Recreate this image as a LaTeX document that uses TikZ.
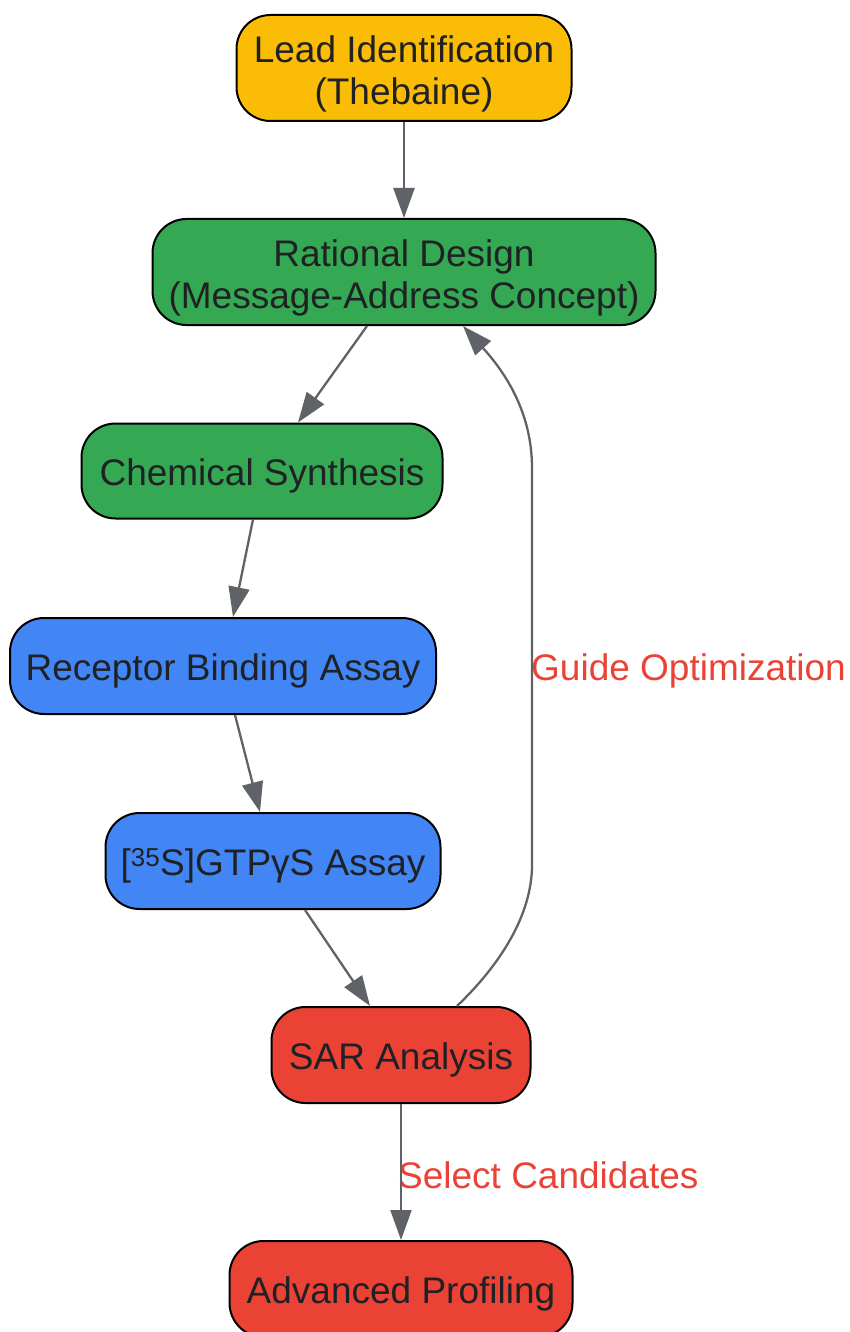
\documentclass[tikz,border=0pt]{standalone}
\usepackage{fontspec}
\setmainfont{Liberation Sans}
\usetikzlibrary{calc}
\usetikzlibrary{arrows.meta}

\definecolor{leadyellow}{HTML}{FBBC05}
\definecolor{designgreen}{HTML}{34A853}
\definecolor{assayblue}{HTML}{4285F4}
\definecolor{sarred}{HTML}{EA4335}
\definecolor{edgegray}{HTML}{5F6368}
\definecolor{textdark}{HTML}{202124}

\begin{document}
\begin{tikzpicture}[x=1pt, y=1pt,
	stagebox/.style={rectangle, rounded corners=34pt, draw=black, line width=2pt, text=textdark, align=center, inner sep=0pt, font=\fontsize{37}{42}\selectfont, execute at begin node={\rule{0pt}{37pt}}},
	twoline/.style={execute at begin node={\rule{0pt}{80pt}}},
	flow/.style={draw=edgegray, line width=2.3pt, -{Triangle[length=30pt, width=21pt]}},
	edgelabel/.style={text=sarred, inner sep=0pt, font=\fontsize{37}{42}\selectfont}]
			\useasboundingbox (0,0) rectangle (850,-1332);

			\node[stagebox, twoline, fill=leadyellow, minimum width=335, minimum height=106] (lead) at (404,-68) {Lead Identification\\(Thebaine)};
			\node[stagebox, twoline, fill=designgreen, minimum width=503, minimum height=106] (design) at (404,-272) {Rational Design\\(Message-Address Concept)};
			\node[stagebox, fill=designgreen, minimum width=361, minimum height=95] (synth) at (262,-471) {Chemical Synthesis};
			\node[stagebox, fill=assayblue, minimum width=426, minimum height=96] (binding) at (223,-666) {Receptor Binding Assay};
			\node[stagebox, fill=assayblue, minimum width=335, minimum height=96] (gtp) at (273,-861) {[\textsuperscript{35}S]GTPγS Assay};
			\node[stagebox, fill=sarred, minimum width=259, minimum height=96] (sar) at (401,-1055) {SAR Analysis};
			\node[stagebox, fill=sarred, minimum width=343, minimum height=96] (profiling) at (401,-1289) {Advanced Profiling};

			%feedback loop ends
			\coordinate (loopstart) at ($(sar.north)+(56,0)$);
			\coordinate (loopend) at ($(design.south)+(59,0)$);

			\node[edgelabel, anchor=west] (guide) at (531,-671) {Guide Optimization};
			\node[edgelabel, anchor=west] (select) at (398,-1175) {Select Candidates};

			\draw[flow] (lead.south) -- (design.north);
			\draw[flow] ($(design.south)+(-37,0)$) -- ($(synth.north)+(36,0)$);
			\draw[flow] ($(synth.south)+(-9,0)$) -- ($(binding.north)+(10,0)$);
			\draw[flow] ($(binding.south)+(12,0)$) -- ($(gtp.north)+(-13,0)$);
			\draw[flow] ($(gtp.south)+(32,0)$) -- ($(sar.north)+(-31,0)$);
			\draw[flow] (sar.south) -- (profiling.north);
			\draw[flow] (loopstart) .. controls (500,-965) and (532,-915) .. (532,-865) -- (532,-468) .. controls (532,-420) and (512,-380) .. (loopend);

		\end{tikzpicture}
\end{document}
